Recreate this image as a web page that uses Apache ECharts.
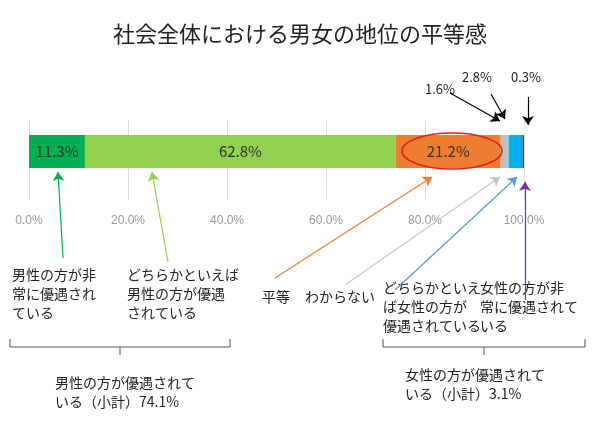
<!DOCTYPE html>
<html><head><meta charset="utf-8">
<script src="https://cdn.jsdelivr.net/npm/echarts@6/dist/echarts.min.js"></script>
<style>body{margin:0}#main{width:600px;height:425px}</style>
</head><body><div id="main"></div>
<script>
var myChart = echarts.init(document.getElementById('main'));

// データ
var names = ['男性の方が非常に優遇されている', 'どちらかといえば男性の方が優遇されている', '平等', 'わからない', 'どちらかといえば女性の方が優遇されている', '女性の方が非常に優遇されている'];
var values = [11.3, 62.8, 21.2, 1.6, 2.8, 0.3];
var colors = ['#00b050', '#92d050', '#ed7d31', '#bfbfbf', '#00b0f0', '#7030a0'];
var showLabel = [true, true, true, false, false, false];
var tickLabels = ['0.0%', '20.0%', '40.0%', '60.0%', '80.0%', '100.0%'];

var F = '"Noto Sans CJK JP", sans-serif';

// 注釈の矢印（ピクセル座標）
var arrows = [
    [[63, 258], [58, 172], '#00b050'],
    [[168, 262], [152, 172], '#92d050'],
    [[275, 278], [432, 177], '#ed7d31'],
    [[345, 285], [500, 177], '#c8c8c8'],
    [[395, 290], [517, 177], '#5b9bd5'],
    [[525, 300], [525, 182], '#7030a0'],
    [[450, 93], [500, 121], '#000'],
    [[491, 94], [505, 119], '#000'],
    [[528, 97], [528, 125], '#000']
];

var series = [];
values.forEach(function (v, i) {
    series.push({
        name: names[i], type: 'bar', stack: 'all', xAxisIndex: 0, yAxisIndex: 0,
        barWidth: 33, data: [v],
        itemStyle: { color: colors[i] },
        label: { show: showLabel[i], position: 'inside', color: '#333', fontSize: 15, fontFamily: F, formatter: v.toFixed(1) + '%' }
    });
});
series.push({
    type: 'line', xAxisIndex: 1, yAxisIndex: 1, data: [], silent: true,
    markLine: {
        silent: true, symbol: ['none', 'arrow'], symbolSize: 9, label: { show: false },
        data: arrows.map(function (a) {
            return [{ x: a[0][0], y: a[0][1], lineStyle: { color: a[2], width: 1.2, type: 'solid' }, itemStyle: { color: a[2] } },
                    { x: a[1][0], y: a[1][1] }];
        })
    }
});

function txt(x, y, s, size) {
    return { type: 'text', x: x, y: y, style: { text: s, fontSize: size || 14, fontFamily: F, fill: '#222', lineHeight: 19 } };
}
function brace(x1, x2, y) {
    return { type: 'polyline', shape: { points: [[x1, y - 8], [x1, y], [x2, y], [x2, y - 8]] }, style: { stroke: '#555', lineWidth: 1, fill: null } };
}

option = {
    animation: false,
    title: { text: '社会全体における男女の地位の平等感', left: 'center', top: 18, textStyle: { fontSize: 22, fontWeight: 'normal', fontFamily: F, color: '#222' } },
    grid: [
        { left: 29, width: 495, top: 135, height: 33 },
        { left: 29, width: 495, top: 120, height: 80 }
    ],
    xAxis: [
        { gridIndex: 0, type: 'value', min: 0, max: 100, show: false },
        { gridIndex: 1, type: 'value', min: 0, max: 100, interval: 20,
          axisLabel: { color: '#999', fontSize: 12, margin: 15, formatter: function (v) { return tickLabels[v / 20]; } },
          axisLine: { show: false }, axisTick: { show: false },
          splitLine: { lineStyle: { color: '#ddd' } } }
    ],
    yAxis: [
        { gridIndex: 0, type: 'category', data: [''], show: false },
        { gridIndex: 1, type: 'value', show: false }
    ],
    series: series,
    graphic: [
        { type: 'ellipse', z: 100, shape: { cx: 452, cy: 151, rx: 50, ry: 18 }, style: { stroke: '#e02020', lineWidth: 1.5, fill: null } },
        txt(425, 80, '1.6%', 13), txt(462, 68, '2.8%', 13), txt(511, 68, '0.3%', 13),
        txt(12, 265, '男性の方が非\n常に優遇され\nている'),
        txt(127, 265, 'どちらかといえば\n男性の方が優遇\nされている'),
        txt(262, 287, '平等'), txt(305, 287, 'わからない'),
        txt(383, 278, 'どちらかといえ\nば女性の方が\n優遇されている'),
        txt(480, 278, '女性の方が非\n常に優遇されて\nいる'),
        brace(10, 230, 347),
        { type: 'line', shape: { x1: 120, y1: 347, x2: 120, y2: 355 }, style: { stroke: '#555' } },
        brace(383, 585, 347),
        { type: 'line', shape: { x1: 484, y1: 347, x2: 484, y2: 355 }, style: { stroke: '#555' } },
        txt(55, 373, '男性の方が優遇されて\nいる（小計）74.1%'),
        txt(405, 365, '女性の方が優遇されて\nいる（小計）3.1%')
    ]
};

myChart.setOption(option);
</script></body></html>
